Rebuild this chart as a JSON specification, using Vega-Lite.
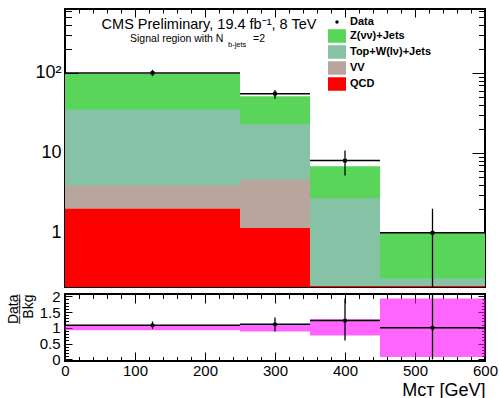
{
  "$schema": "https://vega.github.io/schema/vega-lite/v6.json",
  "autosize": {"type": "pad"},
  "padding": {"left": 5, "top": 7, "right": 13, "bottom": 2},
  "background": "white",
  "spacing": 7,
  "bounds": "flush",
  "config": {
    "view": {"stroke": "#000", "strokeWidth": 2},
    "font": "Liberation Sans",
    "axis": {"domain": false, "grid": false, "tickColor": "#000", "tickWidth": 1, "labelColor": "#000", "labelFont": "Liberation Sans", "titleFont": "Liberation Sans", "titleColor": "#000", "titleFontWeight": "normal", "labelFlush": false, "labelOverlap": false}
  },
  "datasets": {
    "bkg": [
      {"process": "Z(νν)+Jets", "x0": 0, "x1": 250, "total": 97},
      {"process": "Z(νν)+Jets", "x0": 250, "x1": 350, "total": 51},
      {"process": "Z(νν)+Jets", "x0": 350, "x1": 450, "total": 6.8},
      {"process": "Z(νν)+Jets", "x0": 450, "x1": 600, "total": 1.0},
      {"process": "Top+W(lν)+Jets", "x0": 0, "x1": 250, "total": 34.5},
      {"process": "Top+W(lν)+Jets", "x0": 250, "x1": 350, "total": 23},
      {"process": "Top+W(lν)+Jets", "x0": 350, "x1": 450, "total": 2.7},
      {"process": "Top+W(lν)+Jets", "x0": 450, "x1": 600, "total": 0.27},
      {"process": "VV", "x0": 0, "x1": 250, "total": 3.9},
      {"process": "VV", "x0": 250, "x1": 350, "total": 4.6},
      {"process": "VV", "x0": 350, "x1": 450, "total": 0.215},
      {"process": "VV", "x0": 450, "x1": 600, "total": 0.215},
      {"process": "QCD", "x0": 0, "x1": 250, "total": 2.0},
      {"process": "QCD", "x0": 250, "x1": 350, "total": 1.15},
      {"process": "QCD", "x0": 350, "x1": 450, "total": 0.216},
      {"process": "QCD", "x0": 450, "x1": 600, "total": 0.216}
    ],
    "obs": [
      {"x0": 0, "x1": 250, "xc": 125, "n": 100, "lo": 91, "hi": 109},
      {"x0": 250, "x1": 350, "xc": 300, "n": 55, "lo": 47.6, "hi": 61},
      {"x0": 350, "x1": 450, "xc": 400, "n": 8, "lo": 5.2, "hi": 10.7},
      {"x0": 450, "x1": 600, "xc": 525, "n": 1, "lo": 0.21, "hi": 2.0}
    ],
    "ratio": [
      {"x0": 0, "x1": 250, "xc": 125, "r": 1.08, "lo": 0.97, "hi": 1.2, "blo": 0.92, "bhi": 1.08},
      {"x0": 250, "x1": 350, "xc": 300, "r": 1.11, "lo": 0.88, "hi": 1.33, "blo": 0.88, "bhi": 1.12},
      {"x0": 350, "x1": 450, "xc": 400, "r": 1.23, "lo": 0.6, "hi": 1.93, "blo": 0.76, "bhi": 1.27},
      {"x0": 450, "x1": 600, "xc": 525, "r": 1.0, "lo": 0, "hi": 2.3, "blo": 0.08, "bhi": 1.93}
    ]
  },
  "resolve": {"scale": {"color": "independent"}},
  "vconcat": [
    {
      "width": 420,
      "height": 278,
      "resolve": {"axis": {"x": "independent", "y": "independent"}},
      "layer": [
        {
          "data": {"name": "bkg"},
          "mark": {"type": "bar", "clip": true},
          "encoding": {
            "x": {"field": "x0", "type": "quantitative", "scale": {"domain": [0, 600], "nice": false, "zero": false},
              "axis": {"orient": "bottom", "values": [0,20,40,60,80,100,120,140,160,180,200,220,240,260,280,300,320,340,360,380,400,420,440,460,480,500,520,540,560,580,600], "labels": false, "title": null,
                "tickSize": {"condition": {"test": "datum.value % 100 === 0", "value": -8}, "value": -4}}},
            "x2": {"field": "x1"},
            "y": {"field": "total", "type": "quantitative", "scale": {"type": "log", "domain": [0.21, 630], "nice": false},
              "axis": {"orient": "left", "values": [0.3,0.4,0.5,0.6,0.7,0.8,0.9,1,2,3,4,5,6,7,8,9,10,20,30,40,50,60,70,80,90,100,200,300,400,500,600], "title": null, "labelPadding": 17,
                "labelFontSize": {"condition": {"test": "datum.value === 1 || datum.value === 10 || datum.value === 100", "value": 18}, "value": 0},
                "labelExpr": "datum.value === 100 ? '10²' : datum.value === 10 ? '10' : datum.value === 1 ? '1' : ''",
                "tickSize": {"condition": {"test": "datum.value === 1 || datum.value === 10 || datum.value === 100", "value": -13}, "value": -6.5}}},
            "y2": {"datum": 0.21},
            "color": {"field": "process", "type": "nominal",
              "scale": {"domain": ["Data", "Z(νν)+Jets", "Top+W(lν)+Jets", "VV", "QCD"], "range": ["#000000", "#59D659", "#86C2A6", "#B7A59E", "#FF0000"]},
              "legend": {"orient": "none", "legendX": 263, "legendY": 4, "title": null, "padding": 0, "labelFont": "Liberation Sans", "labelFontWeight": "bold", "labelFontSize": 11, "labelColor": "#000", "symbolSize": 324, "rowPadding": -2, "labelOffset": 4, "symbolStrokeWidth": 0, "symbolOpacity": 1,
                "encode": {"symbols": {"update": {"shape": {"signal": "datum.label === 'Data' ? 'circle' : 'M-1,-0.75H1V0.75H-1Z'"}, "size": {"signal": "datum.label === 'Data' ? 12 : 324"}, "strokeWidth": {"value": 0}}}}}}
          }
        },
        {
          "data": {"name": "obs"},
          "mark": {"type": "rule", "color": "#000", "strokeWidth": 1.5, "clip": true},
          "encoding": {
            "x": {"field": "x0", "type": "quantitative", "scale": {"domain": [0, 600], "nice": false, "zero": false},
              "axis": {"orient": "top", "values": [0,20,40,60,80,100,120,140,160,180,200,220,240,260,280,300,320,340,360,380,400,420,440,460,480,500,520,540,560,580,600], "labels": false, "title": null,
                "tickSize": {"condition": {"test": "datum.value % 100 === 0", "value": -8}, "value": -4}}},
            "x2": {"field": "x1"},
            "y": {"field": "n", "type": "quantitative", "scale": {"type": "log", "domain": [0.21, 630], "nice": false},
              "axis": {"orient": "right", "values": [0.3,0.4,0.5,0.6,0.7,0.8,0.9,1,2,3,4,5,6,7,8,9,10,20,30,40,50,60,70,80,90,100,200,300,400,500,600], "labels": false, "title": null,
                "tickSize": {"condition": {"test": "datum.value === 1 || datum.value === 10 || datum.value === 100", "value": -13}, "value": -6.5}}}
          }
        },
        {
          "data": {"name": "obs"},
          "mark": {"type": "rule", "color": "#000", "strokeWidth": 1.3, "clip": true},
          "encoding": {
            "x": {"field": "xc", "type": "quantitative", "scale": {"domain": [0, 600], "nice": false, "zero": false}, "axis": null},
            "y": {"field": "lo", "type": "quantitative", "scale": {"type": "log", "domain": [0.21, 630], "nice": false}, "axis": null},
            "y2": {"field": "hi"}
          }
        },
        {
          "data": {"name": "obs"},
          "mark": {"type": "point", "filled": true, "shape": "square", "size": 14, "color": "#000", "opacity": 1},
          "encoding": {
            "x": {"field": "xc", "type": "quantitative", "scale": {"domain": [0, 600], "nice": false, "zero": false}, "axis": null},
            "y": {"field": "n", "type": "quantitative", "scale": {"type": "log", "domain": [0.21, 630], "nice": false}, "axis": null}
          }
        },
        {
          "data": {"values": [{}]},
          "mark": {"type": "text", "text": "CMS Preliminary, 19.4 fb⁻¹, 8 TeV", "font": "Liberation Sans", "fontSize": 14.5, "align": "center", "baseline": "alphabetic", "color": "#000"},
          "encoding": {
            "x": {"datum": 205.7, "type": "quantitative", "scale": {"domain": [0, 600], "nice": false, "zero": false}, "axis": null},
            "y": {"datum": 355, "type": "quantitative", "scale": {"type": "log", "domain": [0.21, 630], "nice": false}, "axis": null}
          }
        },
        {
          "data": {"values": [{}]},
          "mark": {"type": "text", "text": "Signal region with N", "font": "Liberation Sans", "fontSize": 10.5, "align": "left", "baseline": "alphabetic", "color": "#000"},
          "encoding": {
            "x": {"datum": 92.9, "type": "quantitative", "scale": {"domain": [0, 600], "nice": false, "zero": false}, "axis": null},
            "y": {"datum": 242, "type": "quantitative", "scale": {"type": "log", "domain": [0.21, 630], "nice": false}, "axis": null}
          }
        },
        {
          "data": {"values": [{}]},
          "mark": {"type": "text", "text": "b-jets", "font": "Liberation Sans", "fontSize": 7.5, "align": "left", "baseline": "alphabetic", "color": "#000"},
          "encoding": {
            "x": {"datum": 232.9, "type": "quantitative", "scale": {"domain": [0, 600], "nice": false, "zero": false}, "axis": null},
            "y": {"datum": 209, "type": "quantitative", "scale": {"type": "log", "domain": [0.21, 630], "nice": false}, "axis": null}
          }
        },
        {
          "data": {"values": [{}]},
          "mark": {"type": "text", "text": "=2", "font": "Liberation Sans", "fontSize": 10.5, "align": "left", "baseline": "alphabetic", "color": "#000"},
          "encoding": {
            "x": {"datum": 268.6, "type": "quantitative", "scale": {"domain": [0, 600], "nice": false, "zero": false}, "axis": null},
            "y": {"datum": 242, "type": "quantitative", "scale": {"type": "log", "domain": [0.21, 630], "nice": false}, "axis": null}
          }
        }
      ]
    },
    {
      "width": 420,
      "height": 67,
      "resolve": {"axis": {"x": "independent", "y": "independent"}},
      "layer": [
        {
          "data": {"name": "ratio"},
          "mark": {"type": "rect", "fill": "#FF00FF", "opacity": 0.6, "clip": true},
          "encoding": {
            "x": {"field": "x0", "type": "quantitative", "scale": {"domain": [0, 600], "nice": false, "zero": false},
              "axis": {"orient": "bottom", "values": [0,20,40,60,80,100,120,140,160,180,200,220,240,260,280,300,320,340,360,380,400,420,440,460,480,500,520,540,560,580,600], "title": "Mᴄᴛ [GeV]", "titleFontSize": 18, "titleAnchor": "end", "titlePadding": 3, "labelPadding": 11,
                "labelFontSize": {"condition": {"test": "datum.value % 100 === 0", "value": 15}, "value": 0},
                "labelExpr": "datum.value % 100 === 0 ? datum.label : ''",
                "tickSize": {"condition": {"test": "datum.value % 100 === 0", "value": -9}, "value": -4.5}}},
            "x2": {"field": "x1"},
            "y": {"field": "blo", "type": "quantitative", "scale": {"domain": [-0.05, 2.07], "nice": false, "zero": false},
              "axis": {"orient": "left", "values": [0,0.1,0.2,0.3,0.4,0.5,0.6,0.7,0.8,0.9,1,1.1,1.2,1.3,1.4,1.5,1.6,1.7,1.8,1.9,2], "title": ["D̲a̲t̲a̲", "Bkg"], "titleFontSize": 14, "titleAnchor": "end", "titleAlign": "right", "titlePadding": 4, "titleLineHeight": 15, "labelPadding": 12,
                "labelFontSize": {"condition": {"test": "abs(datum.value*2 - round(datum.value*2)) < 0.001", "value": 15}, "value": 0},
                "labelExpr": "abs(datum.value*2 - round(datum.value*2)) < 0.001 ? format(datum.value, '~g') : ''",
                "tickSize": {"condition": {"test": "abs(datum.value*2 - round(datum.value*2)) < 0.001", "value": -7}, "value": -3.5}}},
            "y2": {"field": "bhi"}
          }
        },
        {
          "mark": {"type": "rule", "color": "#000", "strokeWidth": 1.5},
          "encoding": {
            "y": {"datum": 1, "type": "quantitative", "scale": {"domain": [-0.05, 2.07], "nice": false, "zero": false}, "axis": null}
          }
        },
        {
          "data": {"name": "ratio"},
          "mark": {"type": "rule", "color": "#000", "strokeWidth": 1.5, "clip": true},
          "encoding": {
            "x": {"field": "x0", "type": "quantitative", "scale": {"domain": [0, 600], "nice": false, "zero": false},
              "axis": {"orient": "top", "values": [0,20,40,60,80,100,120,140,160,180,200,220,240,260,280,300,320,340,360,380,400,420,440,460,480,500,520,540,560,580,600], "labels": false, "title": null,
                "tickSize": {"condition": {"test": "datum.value % 100 === 0", "value": -9}, "value": -4.5}}},
            "x2": {"field": "x1"},
            "y": {"field": "r", "type": "quantitative", "scale": {"domain": [-0.05, 2.07], "nice": false, "zero": false},
              "axis": {"orient": "right", "values": [0,0.1,0.2,0.3,0.4,0.5,0.6,0.7,0.8,0.9,1,1.1,1.2,1.3,1.4,1.5,1.6,1.7,1.8,1.9,2], "labels": false, "title": null,
                "tickSize": {"condition": {"test": "abs(datum.value*2 - round(datum.value*2)) < 0.001", "value": -7}, "value": -3.5}}}
          }
        },
        {
          "data": {"name": "ratio"},
          "mark": {"type": "rule", "color": "#000", "strokeWidth": 1.3, "clip": true},
          "encoding": {
            "x": {"field": "xc", "type": "quantitative", "scale": {"domain": [0, 600], "nice": false, "zero": false}, "axis": null},
            "y": {"field": "lo", "type": "quantitative", "scale": {"domain": [-0.05, 2.07], "nice": false, "zero": false}, "axis": null},
            "y2": {"field": "hi"}
          }
        },
        {
          "data": {"name": "ratio"},
          "mark": {"type": "point", "filled": true, "shape": "square", "size": 12, "color": "#000", "opacity": 1},
          "encoding": {
            "x": {"field": "xc", "type": "quantitative", "scale": {"domain": [0, 600], "nice": false, "zero": false}, "axis": null},
            "y": {"field": "r", "type": "quantitative", "scale": {"domain": [-0.05, 2.07], "nice": false, "zero": false}, "axis": null}
          }
        }
      ]
    }
  ]
}
